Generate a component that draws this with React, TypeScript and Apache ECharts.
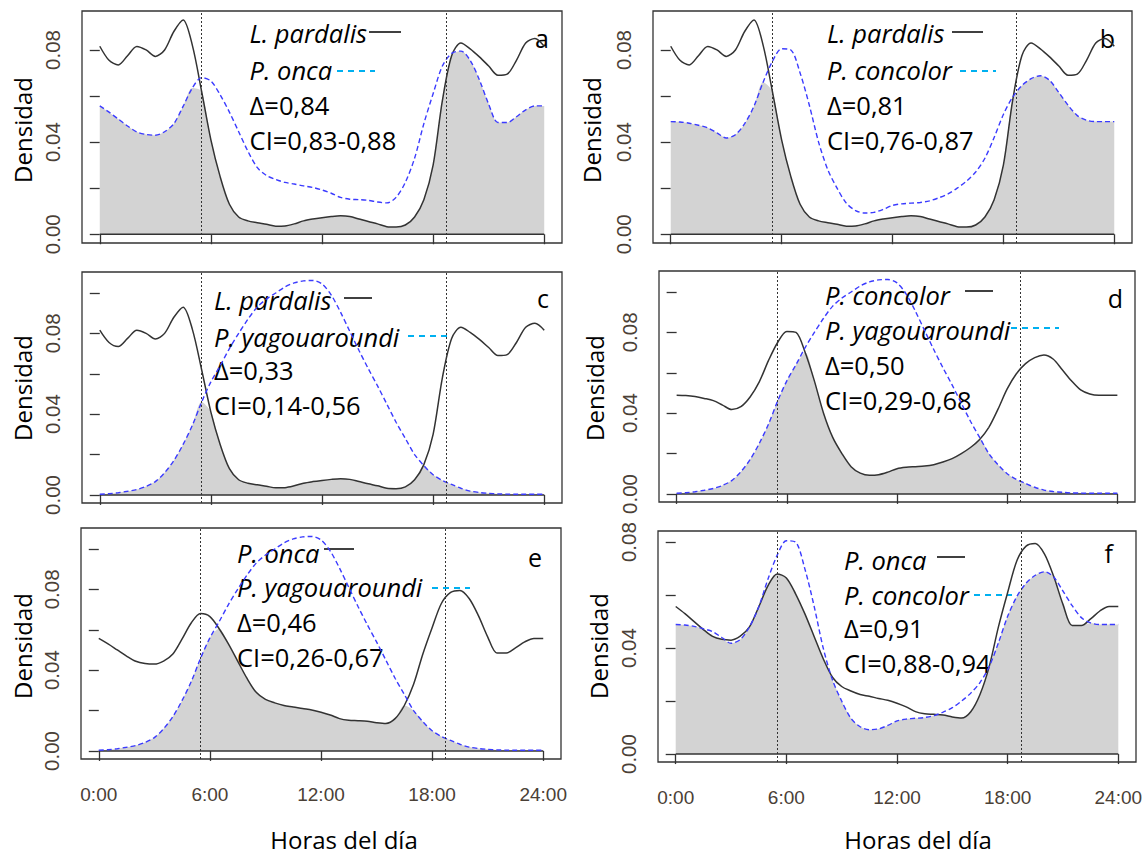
import React, { useEffect, useRef } from "react";
import * as echarts from "echarts";

// ---------- data ----------
const HOURS = [
  0, 0.5, 1, 1.5, 2, 2.5, 3, 3.5, 4, 4.5, 5, 5.5, 6, 6.5, 7, 7.5, 8, 8.5, 9, 9.5, 10, 10.5, 11, 11.5,
  12, 12.5, 13, 13.5, 14, 14.5, 15, 15.5, 16, 16.5, 17, 17.5, 18, 18.5, 19, 19.5, 20, 20.5, 21, 21.5,
  22, 22.5, 23, 23.5, 24,
];

const L_PARDALIS = [
  0.0816, 0.0755, 0.0735, 0.0775, 0.0815, 0.08, 0.0772, 0.08, 0.088, 0.093, 0.082, 0.062, 0.041, 0.025,
  0.013, 0.0075, 0.0058, 0.005, 0.0043, 0.0035, 0.0036, 0.0045, 0.0058, 0.0066, 0.0072, 0.0077, 0.008,
  0.0077, 0.0066, 0.0055, 0.0045, 0.0033, 0.0031, 0.004, 0.0075, 0.015, 0.03, 0.058, 0.0775, 0.083,
  0.0805, 0.077, 0.073, 0.069, 0.0695, 0.0755, 0.083, 0.085, 0.0816,
];

const P_ONCA = [
  0.0557, 0.053, 0.05, 0.047, 0.0444, 0.0433, 0.043, 0.0445, 0.048, 0.0555, 0.0635, 0.068, 0.0665,
  0.0605, 0.053, 0.0445, 0.036, 0.029, 0.0255, 0.0238, 0.0225, 0.0218, 0.021, 0.0203, 0.0192, 0.0178,
  0.016, 0.0152, 0.015, 0.0147, 0.014, 0.0136, 0.016, 0.0225, 0.033, 0.048, 0.061, 0.073, 0.0785,
  0.0795, 0.0755, 0.067, 0.0565, 0.0485, 0.0485, 0.051, 0.054, 0.0557, 0.0557,
];

const P_CONCOLOR = [
  0.0489, 0.0487, 0.0482, 0.0473, 0.0462, 0.044, 0.0418, 0.0432, 0.048, 0.0555, 0.066, 0.075, 0.0805,
  0.08, 0.07, 0.056, 0.04, 0.028, 0.02, 0.0135, 0.0103, 0.0092, 0.0095, 0.0108, 0.0125, 0.0132, 0.0135,
  0.0138, 0.0145, 0.0158, 0.0175, 0.02, 0.023, 0.027, 0.033, 0.042, 0.052, 0.0595, 0.0645, 0.0675,
  0.0688, 0.0668, 0.0615, 0.056, 0.0515, 0.0495, 0.0489, 0.0489, 0.0489,
];

const P_YAGOUAROUNDI = [
  0.0003, 0.0006, 0.0011, 0.0018, 0.0027, 0.0042, 0.0066, 0.011, 0.017, 0.025, 0.0345, 0.046, 0.056,
  0.064, 0.0725, 0.08, 0.087, 0.093, 0.097, 0.1, 0.103, 0.105, 0.106, 0.1062, 0.1045, 0.099, 0.0905,
  0.081, 0.0715, 0.0625, 0.054, 0.045, 0.036, 0.028, 0.02, 0.0145, 0.01, 0.0072, 0.0052, 0.0033,
  0.0019, 0.0012, 0.0008, 0.0005, 0.0004, 0.0003, 0.0003, 0.0003, 0.0003,
];

const X_TICKS = [0, 6, 12, 18, 24];
const X_TICK_LABELS = ["0:00", "6:00", "12:00", "18:00", "24:00"];
const Y_TICKS = [0, 0.02, 0.04, 0.06, 0.08, 0.1];
const Y_LABELS = [0, 0.04, 0.08];
const SUN_TIMES = [5.5, 18.72];

const PANEL_IDS = ["a", "b", "c", "d", "e", "f"];
const PANEL_SOLID = ["L. pardalis", "L. pardalis", "L. pardalis", "P. concolor", "P. onca", "P. onca"];
const PANEL_DASHED = ["P. onca", "P. concolor", "P. yagouaroundi", "P. yagouaroundi", "P. yagouaroundi", "P. concolor"];
const PANEL_DELTA = ["0,84", "0,81", "0,33", "0,50", "0,46", "0,91"];
const PANEL_CI = ["0,83-0,88", "0,76-0,87", "0,14-0,56", "0,29-0,68", "0,26-0,67", "0,88-0,94"];

const Y_AXIS_TITLE = "Densidad";
const X_AXIS_TITLE = "Horas del día";

const SPECIES: Record<string, number[]> = {
  "L. pardalis": L_PARDALIS,
  "P. onca": P_ONCA,
  "P. concolor": P_CONCOLOR,
  "P. yagouaroundi": P_YAGOUAROUNDI,
};

// ---------- layout ----------
const LAYOUT = [
  { grid: [82, 11, 480, 232], y: [-0.0038, 0.0969], tx: 249.6, ty: [33, 70, 105, 140], sl: [369, 401, 32], dl: [337, 375, 71], id: [549, 38], dens: [22, 130], xl: false },
  { grid: [653, 11, 479, 232], y: [-0.0038, 0.0969], tx: 827, ty: [33, 70, 105, 140], sl: [952, 983, 32], dl: [960, 996, 71], id: [1115, 38], dens: [591, 130], xl: false },
  { grid: [82, 272, 480, 231], y: [-0.004, 0.1104], tx: 214, ty: [300, 337, 370, 405], sl: [344, 372, 298], dl: [408, 447, 336], id: [549, 298], dens: [22, 388], xl: false },
  { grid: [659, 271, 476, 231], y: [-0.004, 0.1104], tx: 825, ty: [295, 330, 365, 400], sl: [965, 993, 291], dl: [1011, 1059, 328], id: [1123, 298], dens: [594, 388], xl: false },
  { grid: [81, 528, 480, 231], y: [-0.004, 0.1104], tx: 237, ty: [553, 587, 622, 657], sl: [324, 354, 549], dl: [432, 470, 588], id: [542, 557], dens: [22, 646], xl: true },
  { grid: [658, 531, 478, 231], y: [-0.003, 0.0842], tx: 844, ty: [560, 595, 628, 663], sl: [937, 965, 557], dl: [974, 1012, 595], id: [1113, 553], dens: [598, 646], xl: true },
];

const BIG_FONT = '"Open Sans", "Liberation Sans", sans-serif';
const TICK_FONT = '"Liberation Sans", Arial, sans-serif';
const LINE_COLOR = "#333";
const BLUE = "#3b3bff";
const TICK_TEXT = "#4a4036";

function buildOption() {
  const grid: any[] = [];
  const xAxis: any[] = [];
  const yAxis: any[] = [];
  const series: any[] = [];
  const graphic: any[] = [];

  LAYOUT.forEach((L, i) => {
    const [left, top, width, height] = L.grid;
    grid.push({
      left, top, width, height,
      show: true, borderColor: LINE_COLOR, borderWidth: 1.3, backgroundColor: "transparent",
    });
    xAxis.push({
      gridIndex: i, type: "value", min: -0.96, max: 24.96,
      axisLine: { show: false }, splitLine: { show: false },
      axisTick: { show: true, customValues: X_TICKS, length: 10, lineStyle: { color: LINE_COLOR, width: 1.3 } },
      axisLabel: {
        show: L.xl, customValues: X_TICKS, margin: 26,
        formatter: (v: number) => X_TICK_LABELS[X_TICKS.indexOf(v)] ?? "",
        fontFamily: TICK_FONT, fontSize: 19, color: TICK_TEXT,
      },
    });
    const ticks = Y_TICKS.filter((t) => t <= L.y[1]);
    yAxis.push({
      gridIndex: i, type: "value", min: L.y[0], max: L.y[1],
      axisLine: { show: false }, splitLine: { show: false },
      axisTick: { show: true, customValues: ticks, length: 10, lineStyle: { color: LINE_COLOR, width: 1.3 } },
      axisLabel: {
        customValues: Y_LABELS, rotate: 90, margin: 19,
        formatter: (v: number) => v.toFixed(2),
        fontFamily: TICK_FONT, fontSize: 20.5, color: TICK_TEXT,
      },
    });

    const solid = SPECIES[PANEL_SOLID[i]];
    const dashed = SPECIES[PANEL_DASHED[i]];
    const overlap = HOURS.map((h, k) => [h, Math.min(solid[k], dashed[k])]);

    series.push({
      type: "line", xAxisIndex: i, yAxisIndex: i, data: overlap, smooth: 0.3, showSymbol: false,
      silent: true, lineStyle: { width: 0 }, areaStyle: { color: "#d3d3d3", opacity: 1, origin: "auto" },
    });
    series.push({
      type: "line", xAxisIndex: i, yAxisIndex: i, data: [[0, 0], [24, 0]], showSymbol: false, silent: true,
      lineStyle: { color: LINE_COLOR, width: 1.5 },
    });
    series.push({
      type: "line", xAxisIndex: i, yAxisIndex: i, data: HOURS.map((h, k) => [h, solid[k]]),
      smooth: 0.3, showSymbol: false, silent: true, lineStyle: { color: LINE_COLOR, width: 1.5 },
    });
    series.push({
      type: "line", xAxisIndex: i, yAxisIndex: i, data: HOURS.map((h, k) => [h, dashed[k]]),
      smooth: 0.3, showSymbol: false, silent: true, lineStyle: { color: BLUE, width: 1.4, type: [5, 3] },
      markLine: {
        silent: true, symbol: ["none", "none"], label: { show: false },
        lineStyle: { color: LINE_COLOR, width: 1, type: [2, 2] },
        data: SUN_TIMES.map((t) => ({ xAxis: t })),
      },
    });

    // annotations
    const texts = [
      { t: PANEL_SOLID[i], italic: true },
      { t: PANEL_DASHED[i], italic: true },
      { t: "Δ=" + PANEL_DELTA[i], italic: false },
      { t: "CI=" + PANEL_CI[i], italic: false },
    ];
    texts.forEach((tt, k) => {
      graphic.push({
        type: "text", x: L.tx, y: L.ty[k], silent: true,
        style: {
          text: tt.t, font: (tt.italic ? "italic " : "") + "25.5px " + BIG_FONT, fill: "#000",
          align: "left", verticalAlign: "middle", textAlign: "left", textVerticalAlign: "middle",
        },
      });
    });
    graphic.push({
      type: "line", silent: true,
      shape: { x1: L.sl[0], y1: L.sl[2], x2: L.sl[1], y2: L.sl[2] },
      style: { stroke: "#000", lineWidth: 1.5 },
    });
    graphic.push({
      type: "line", silent: true,
      shape: { x1: L.dl[0], y1: L.dl[2], x2: L.dl[1], y2: L.dl[2] },
      style: { stroke: "#00b0f0", lineWidth: 2, lineDash: [6, 5] },
    });
    graphic.push({
      type: "text", x: L.id[0], y: L.id[1], silent: true,
      style: {
        text: PANEL_IDS[i], font: "25px " + BIG_FONT, fill: "#000",
        align: "right", verticalAlign: "middle", textAlign: "right", textVerticalAlign: "middle",
      },
    });
    graphic.push({
      type: "text", x: L.dens[0], y: L.dens[1], rotation: Math.PI / 2, silent: true,
      style: {
        text: Y_AXIS_TITLE, font: "24px " + BIG_FONT, fill: "#000",
        align: "center", verticalAlign: "middle", textAlign: "center", textVerticalAlign: "middle",
      },
    });
  });

  [344, 918].forEach((cx) => {
    graphic.push({
      type: "text", x: cx, y: 839, silent: true,
      style: {
        text: X_AXIS_TITLE, font: "24px " + BIG_FONT, fill: "#000",
        align: "center", verticalAlign: "middle", textAlign: "center", textVerticalAlign: "middle",
      },
    });
  });

  return {
    animation: false,
    backgroundColor: "#fff",
    grid, xAxis, yAxis, series, graphic,
  };
}

export default function App() {
  const ref = useRef<HTMLDivElement>(null);
  useEffect(() => {
    if (!ref.current) return;
    const chart = echarts.init(ref.current, undefined, { renderer: "svg" });
    chart.setOption(buildOption() as any);
    return () => chart.dispose();
  }, []);
  return (
    <div
      ref={ref}
      style={{ position: "absolute", left: 0, top: 0, width: 1147, height: 856, background: "#fff" }}
    />
  );
}
